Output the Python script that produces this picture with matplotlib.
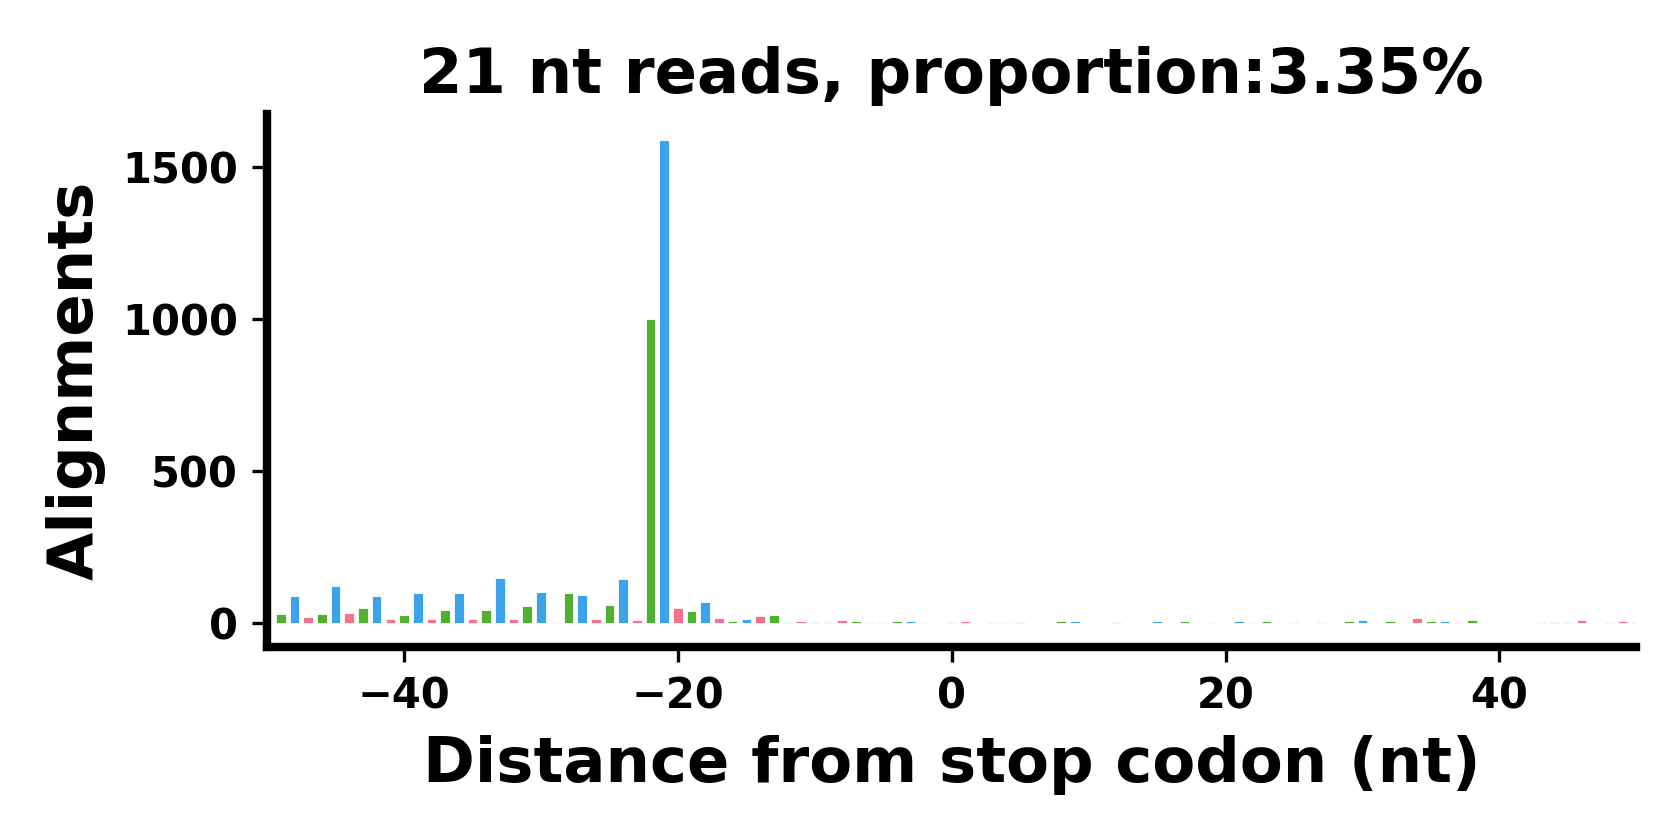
import numpy as np
import matplotlib
matplotlib.use('Agg')
import matplotlib.pyplot as plt
import seaborn as sns

# distance from stop codon (nt) and read counts for 21 nt reads
positions = list(range(-50, 51))
counts = [0, 29, 88, 18, 29, 120, 32, 48, 88, 12,
          25, 97, 12, 42, 97, 12, 42, 146, 12, 55,
          101, 3, 98, 90, 12, 58, 143, 8, 1000, 1590,
          48, 37, 68, 15, 5, 12, 22, 24, 1, 5,
          1, 1, 7, 5, 1, 1, 4, 5, 1, 0,
          1, 4, 0, 1, 1, 1, 0, 0, 4, 4,
          0, 0, 1, 0, 0, 4, 0, 4, 0, 1,
          0, 5, 2, 6, 0, 1, 0, 1, 0, 4,
          9, 0, 4, 0, 14, 4, 4, 1, 9, 0,
          0, 0, 0, 1, 1, 1, 8, 0, 1, 4,
          1]
title = '21 nt reads, proportion:3.35%'

pal = sns.color_palette('husl', 3)   # pink, green, blue
frame_colors = {1: pal[0], 2: pal[1], 0: pal[2]}
colors = [frame_colors[p % 3] for p in positions]

fig = plt.figure(figsize=(5.6, 2.8), dpi=300)
ax = fig.add_axes([0.159, 0.23, 0.815, 0.634])
ax.bar(positions, counts, width=0.7, color=colors, edgecolor='white', linewidth=0.2)
ax.set_xlim(-50, 50)
ax.set_ylim(-80, 1675)

ax.set_title(title, fontsize=15, fontweight='bold', pad=5)
ax.set_xlabel('Distance from stop codon (nt)', fontsize=15, fontweight='bold')
ax.set_ylabel('Alignments', fontsize=15, fontweight='bold')
ax.set_xticks([-40, -20, 0, 20, 40])
ax.set_yticks([0, 500, 1000, 1500])
for lab in ax.get_xticklabels() + ax.get_yticklabels():
    lab.set_fontweight('bold')
ax.tick_params(labelsize=10)
ax.spines['top'].set_visible(False)
ax.spines['right'].set_visible(False)
ax.spines['left'].set_linewidth(2)
ax.spines['bottom'].set_linewidth(2)

fig.savefig('out.png', dpi=300)
